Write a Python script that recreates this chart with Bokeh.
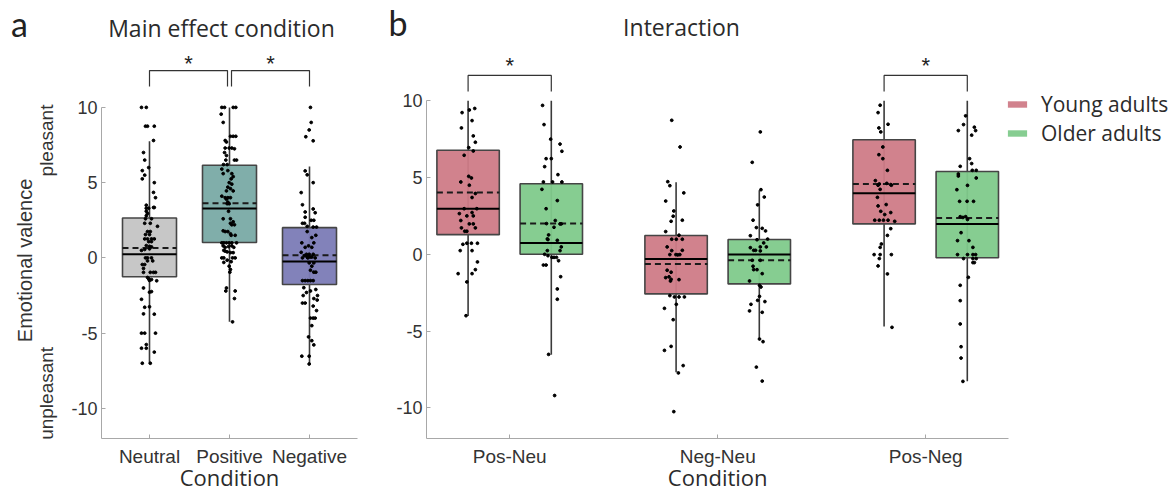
import math
from bokeh.plotting import figure
from bokeh.layouts import row
from bokeh.models import FixedTicker, Label, Legend, LegendItem
from bokeh.core.properties import value
from bokeh.embed import file_html
from bokeh.resources import INLINE

# ---------------- data: panel a (main effect of condition) ----------------
a_conditions = ["Neutral", "Positive", "Negative"]
a_q1 = [-1.25, 1.02, -1.77]
a_median = [0.25, 3.28, -0.24]
a_q3 = [2.65, 6.16, 2.01]
a_mean = [0.65, 3.63, 0.18]
a_low = [-7.0, -4.25, -7.07]
a_high = [7.75, 10.0, 6.07]
a_sig_pairs = [(0, 1), (1, 2)]

neutral_vals = [10, 10, 8.75, 8.75, 8.75, 7.8, 7.0, 6.5, 6.0, 5.8, 5.5, 5.25, 5.0, 4.35, 4.0, 3.5, 3.3, 3.3,
                3.35, 3.35, 3.1, 2.95, 2.8, 2.6, 2.6, 2.3, 2.3, 2.1, 1.75, 1.75, 1.55, 1.55, 1.26, 1.26, 1.26,
                1.26, 1.08, 1.08, 0.82, 0.77, 0.73, 0.5, 0.56, 0.6, 0.0, 0.0, 0.0, -0.2, -0.2, -0.44, -0.44,
                -0.7, -0.96, -0.96, -0.96, -0.96, -1.3, -1.4, -1.5, -1.44, -1.52, -2.0, -2.24, -2.28, -2.75,
                -3.28, -3.25, -3.72, -3.74, -5.0, -5.0, -5.0, -5.76, -6.0, -6.0, -6.26, -7.0, -7.0]
neutral_jit = [-0.10, -0.04, -0.05, -0.025, 0.06, 0.05, -0.075, -0.06, -0.01, -0.09, -0.06, -0.09, 0.06, 0.05,
               0.075, -0.04, -0.04, -0.01, 0.05, 0.06, -0.04, -0.025, -0.04, -0.05, 0.025, -0.06, 0.01, 0.10,
               -0.025, 0.01, -0.05, 0.0, -0.06, -0.025, 0.025, 0.06, -0.01, 0.025, -0.04, 0.0, 0.025, -0.10,
               -0.06, 0.0, -0.05, -0.025, 0.025, 0.04, -0.025, -0.09, -0.06, -0.075, -0.075, 0.01, 0.05, 0.075,
               -0.025, -0.01, 0.0, 0.025, 0.09, -0.075, 0.025, 0.0, -0.10, -0.06, 0.0, -0.075, 0.06, -0.10,
               -0.06, 0.075, -0.04, -0.10, -0.04, 0.06, -0.09, 0.01]

positive_vals = [10.0, 10.0, 10.0, 10.0, 9.55, 9.0, 8.08, 8.08, 8.08, 7.8, 7.7, 7.3, 7.3, 7.3, 7.25, 7.0, 6.8,
                 6.5, 6.5, 6.5, 6.2, 6.2, 5.9, 5.8, 5.6, 5.6, 5.4, 5.25, 5.0, 4.9, 4.7, 4.6, 4.45, 4.45, 4.1,
                 4.0, 4.0, 4.0, 3.9, 3.7, 3.6, 3.6, 3.1, 2.6, 2.6, 2.4, 2.3, 2.2, 2.2, 1.8, 1.75, 1.75, 1.6,
                 1.5, 1.5, 1.0, 1.0, 1.0, 1.0, 1.0, 1.0, 0.8, 0.7, 0.75, 0.8, 0.7, 0.4, 0.35, 0.35, 0.5, 0.45,
                 0.0, 0.0, 0.0, 0.0, -0.15, -0.25, -0.3, -0.55, -0.77, -0.95, -2.0, -2.2, -2.2, -2.7, -4.25]
positive_jit = [-0.096, -0.062, 0.046, 0.079, -0.104, -0.079, 0.012, 0.046, 0.079, -0.054, -0.038, -0.054,
                -0.004, 0.029, 0.062, -0.062, -0.038, -0.046, 0.062, 0.088, -0.075, -0.029, -0.096, -0.021,
                -0.079, 0.029, 0.046, 0.021, -0.004, 0.029, -0.021, 0.012, -0.038, 0.046, -0.096, -0.054,
                -0.021, 0.012, -0.038, -0.021, -0.004, -0.029, -0.012, -0.079, 0.012, 0.046, 0.012, 0.029,
                0.062, -0.079, -0.054, -0.021, 0.012, 0.021, 0.071, -0.096, -0.071, -0.038, -0.004, 0.029,
                0.088, -0.079, -0.054, -0.012, 0.029, 0.054, -0.029, 0.012, 0.046, -0.071, -0.054, -0.096,
                -0.071, 0.038, 0.071, -0.029, 0.021, -0.071, -0.004, 0.012, 0.004, -0.038, -0.046, 0.071,
                0.062, 0.038]

negative_vals = [10.0, 9.0, 8.5, 8.05, 7.78, 5.78, 5.52, 5.0, 4.34, 3.53, 3.25, 3.0, 3.05, 2.7, 2.5, 2.5, 2.3,
                 2.3, 2.1, 2.05, 2.05, 1.75, 1.5, 1.35, 1.0, 1.0, 0.8, 0.7, 0.7, 0.37, 0.24, 0.24, 0.24, 0.15,
                 0.06, 0.06, 0.06, 0.06, 0.0, 0.0, 0.0, -0.33, -0.33, -0.55, -0.82, -0.95, -0.95, -1.51, -1.51,
                 -1.51, -1.51, -1.51, -1.98, -2.1, -2.2, -2.3, -2.5, -2.5, -2.7, -2.8, -3.0, -3.0, -3.2, -3.5,
                 -4.0, -4.0, -4.0, -4.5, -5.25, -5.5, -5.78, -6.53, -6.53, -7.05]
negative_jit = [0.012, 0.021, -0.004, -0.046, 0.046, -0.054, -0.029, 0.046, -0.104, -0.088, 0.046, 0.071,
                -0.054, -0.054, 0.021, 0.054, -0.088, -0.062, -0.029, 0.046, 0.088, -0.029, 0.079, 0.029,
                -0.096, 0.054, -0.012, 0.029, -0.054, -0.104, 0.046, -0.038, -0.004, -0.062, -0.029, -0.012,
                0.012, 0.029, -0.088, -0.021, 0.071, -0.004, 0.054, 0.029, 0.012, 0.054, 0.079, -0.088, -0.054,
                -0.021, 0.012, 0.046, -0.071, 0.079, 0.012, -0.038, 0.1, -0.079, 0.054, 0.096, -0.088, -0.054,
                0.046, 0.088, 0.012, 0.046, 0.071, 0.029, -0.012, 0.029, 0.054, -0.096, -0.004, -0.004]

a_points = [(neutral_vals, neutral_jit), (positive_vals, positive_jit), (negative_vals, negative_jit)]

# ---------------- data: panel b (interaction age x condition) ----------------
b_conditions = ["Pos-Neu", "Neg-Neu", "Pos-Neg"]
groups = ["Young adults", "Older adults"]
young_q1 = [1.28, -2.58, 1.98]
young_median = [2.97, -0.3, 3.97]
young_q3 = [6.78, 1.22, 7.46]
young_mean = [4.02, -0.63, 4.58]
young_low = [-4.02, -7.69, -4.71]
young_high = [10.0, 4.69, 10.0]
older_q1 = [0.0, -1.93, -0.22]
older_median = [0.74, -0.02, 1.98]
older_q3 = [4.6, 0.96, 5.39]
older_mean = [2.0, -0.39, 2.37]
older_low = [-6.54, -5.52, -8.27]
older_high = [10.0, 4.17, 10.0]
b_sig_conditions = [0, 2]

young_posneu_vals = [9.23, 9.4, 9.5, 8.71, 8.23, 7.71, 7.3, 6.95, 6.73, 6.45, 5.08, 4.97, 4.71, 4.5, 3.96, 3.7,
                     2.97, 2.97, 2.65, 2.72, 2.5, 2.5, 2.2, 1.98, 1.98, 1.72, 1.72, 1.5, 1.5, 0.72, 0.72, 0.72,
                     0.65, 0.24, 0.24, -0.5, -1.0, -1.26, -1.26, -1.8, -4.0]
young_posneu_jit = [-0.029, 0.006, 0.032, 0.019, -0.032, 0.025, 0.035, 0.003, 0.025, -0.019, 0.003, 0.016,
                    -0.035, 0.006, 0.035, 0.019, -0.019, 0.042, -0.042, 0.019, 0.025, -0.006, -0.035, 0.006,
                    0.025, 0.035, -0.032, -0.016, -0.006, -0.006, 0.016, 0.045, -0.025, -0.038, 0.019, 0.045,
                    0.035, -0.048, 0.019, -0.006, -0.01]
older_posneu_vals = [9.7, 8.45, 7.5, 7.18, 6.71, 6.23, 6.23, 5.71, 5.19, 4.71, 4.71, 4.71, 4.23, 3.5, 2.97, 2.2,
                     1.98, 1.98, 1.76, 1.26, 1.0, 0.96, 0.91, 0.48, 0.24, 0.24, 0.0, -0.09, -0.2, -0.2, -0.2,
                     -0.42, -0.7, -0.7, -1.46, -2.26, -2.93, -6.52, -9.2, 2.0]
older_posneu_jit = [-0.042, -0.035, -0.003, 0.042, 0.051, -0.025, 0.0, -0.032, 0.032, -0.038, 0.006, 0.051,
                    -0.045, 0.029, -0.025, 0.019, 0.042, 0.048, 0.013, -0.013, -0.019, -0.016, 0.029, 0.048,
                    0.042, -0.019, -0.032, -0.016, 0.003, 0.013, 0.025, 0.035, -0.038, -0.025, 0.045, 0.029,
                    0.029, -0.013, 0.016, -0.023]
young_negneu_vals = [8.73, 6.99, 4.73, 4.47, 4.0, 3.47, 2.82, 2.48, 2.15, 2.22, 1.48, 1.24, 0.98, 0.98, 0.98,
                     0.48, 0.26, 0.24, -0.02, -0.04, -0.02, -0.02, -1.04, -1.17, -1.47, -1.52, -1.63, -1.65,
                     -1.74, -2.69, -2.78, -2.78, -2.78, -3.52, -3.26, -4.26, -6.0, -6.26, -7.25, -7.73, -10.25]
young_negneu_jit = [-0.021, 0.019, -0.04, -0.03, 0.037, -0.05, -0.011, -0.014, -0.024, 0.03, -0.05, 0.014,
                    -0.021, 0.001, 0.03, -0.043, 0.03, -0.021, -0.001, 0.008, -0.03, 0.018, -0.043, -0.024,
                    -0.034, -0.05, -0.024, 0.014, -0.027, -0.03, -0.008, 0.014, 0.04, -0.056, 0.001, -0.014,
                    -0.024, -0.056, 0.034, 0.011, -0.011]
older_negneu_vals = [7.97, 5.99, 4.21, 3.73, 3.22, 2.22, 1.74, 1.52, 1.69, 1.21, 0.95, 0.99, 0.74, 0.48, 0.48,
                     0.43, 0.26, 0.26, 0.22, -0.39, -0.39, -0.78, -1.0, -1.0, -1.26, -1.74, -2.02, -2.13, -2.74,
                     -3.08, -3.0, -3.26, -3.69, -3.78, -5.52, -5.69, -7.35, -8.26]
older_negneu_jit = [0.005, -0.034, 0.008, 0.024, -0.008, -0.03, -0.014, 0.03, 0.014, -0.043, -0.011, 0.04,
                    0.021, 0.005, 0.034, -0.043, -0.027, -0.018, 0.005, -0.034, 0.005, -0.03, -0.011, -0.027,
                    0.014, -0.047, 0.001, 0.008, 0.001, 0.027, -0.008, -0.04, -0.047, 0.014, 0.001, 0.018,
                    -0.014, 0.014]
young_posneg_vals = [9.71, 9.23, 8.23, 7.97, 8.47, 6.99, 6.49, 6.23, 5.47, 4.8, 4.58, 4.5, 4.62, 4.54, 4.5, 4.23,
                     3.71, 3.15, 3.24, 2.8, 2.72, 2.59, 2.22, 2.22, 2.22, 2.22, 2.15, 1.67, 1.23, 0.67, 0.45,
                     -0.02, -0.02, -0.02, -0.28, -0.76, -1.28, -4.76]
young_posneg_jit = [-0.019, -0.029, -0.025, -0.016, 0.019, -0.006, -0.025, -0.006, 0.016, -0.042, -0.023,
                    -0.029, 0.013, 0.032, 0.035, -0.019, -0.032, -0.029, 0.01, -0.016, 0.032, 0.003, -0.045,
                    -0.023, -0.003, 0.019, 0.051, 0.032, 0.016, -0.013, -0.019, -0.048, -0.019, 0.035, -0.023,
                    -0.029, 0.016, 0.038]
older_posneg_vals = [9.02, 8.45, 8.06, 8.28, 8.06, 7.76, 6.23, 5.91, 5.73, 5.47, 5.47, 5.23, 5.1, 4.97, 4.49,
                     4.21, 3.45, 3.45, 3.45, 2.45, 2.4, 2.45, 2.27, 1.41, 0.89, 0.89, 0.45, -0.02, -0.02, -0.02,
                     -0.02, -0.28, -0.28, -0.28, -0.54, -0.54, -1.5, -2.02, -3.02, -4.54, -6.02, -6.76, -8.28]
older_posneg_jit = [-0.008, -0.018, -0.043, 0.034, 0.04, 0.021, 0.011, 0.021, -0.034, 0.024, 0.043, -0.043,
                    -0.043, 0.043, 0.001, -0.05, -0.037, -0.001, 0.03, -0.034, -0.021, -0.008, 0.001, -0.03,
                    -0.047, 0.008, 0.027, -0.047, 0.001, 0.027, 0.04, -0.018, 0.027, 0.043, 0.034, 0.027,
                    0.005, -0.034, -0.034, -0.034, -0.03, -0.03, -0.021]

young_points = [(young_posneu_vals, young_posneu_jit), (young_negneu_vals, young_negneu_jit),
                (young_posneg_vals, young_posneg_jit)]
older_points = [(older_posneu_vals, older_posneu_jit), (older_negneu_vals, older_negneu_jit),
                (older_posneg_vals, older_posneg_jit)]

y_ticks = [-10, -5, 0, 5, 10]
y_tick_labels = ["-10", "-5", "0", "5", "10"]

# ---------------- styling ----------------
a_colors = ["#c4c4c4", "#79aaa5", "#7b7bb6"]
group_colors = ["#cf7b87", "#7fca8b"]
TICK_FONT = "Liberation Sans"
TEXT_FONT = "Open Sans"
LETTER_FONT = "Lato"
TXT = "#2b2b2b"
AXIS_COLOR = "#a8a8a8"
H = 493


def make_fig(width, xr, yr, x_axis_bounds, xlabels):
    # the frame covers the whole canvas; axes sit at fixed data locations inside it
    p = figure(width=width, height=H, x_range=xr, y_range=yr, output_backend="svg",
               toolbar_location=None, min_border=0, title=None)
    p.outline_line_color = None
    p.xgrid.visible = False
    p.ygrid.visible = False
    p.background_fill_color = "white"
    ticks = list(range(1, len(xlabels) + 1))
    p.xaxis.ticker = FixedTicker(ticks=ticks)
    p.xaxis.major_label_overrides = {t: l for t, l in zip(ticks, xlabels)}
    p.xaxis.bounds = x_axis_bounds
    p.xaxis.fixed_location = -12
    p.yaxis.ticker = FixedTicker(ticks=y_ticks)
    p.yaxis.major_label_overrides = {t: l for t, l in zip(y_ticks, y_tick_labels)}
    p.yaxis.bounds = (-12, 10)
    p.yaxis.fixed_location = x_axis_bounds[0]
    for ax in (p.xaxis, p.yaxis):
        ax.axis_line_color = AXIS_COLOR
        ax.major_tick_line_color = AXIS_COLOR
        ax.major_tick_in = 4
        ax.major_tick_out = 0
        ax.minor_tick_line_color = None
        ax.major_label_text_font = TICK_FONT
        ax.major_label_text_color = "#333333"
    p.xaxis.major_label_text_font_size = "19px"
    p.yaxis.major_label_text_font_size = "18px"
    p.xaxis.major_label_standoff = 7
    p.yaxis.major_label_standoff = 4
    return p


def draw_boxes(p, xs, width, q1, med, q3, mean, lo, hi, colors):
    p.segment(x0=xs, y0=lo, x1=xs, y1=hi, line_color="#3a3a3a", line_width=1.6)
    fill = p.vbar(x=xs, width=width, bottom=q1, top=q3, fill_color=colors, fill_alpha=0.95, line_color=None)
    p.vbar(x=xs, width=width, bottom=q1, top=q3, fill_color=None, line_color="#454545", line_width=1.6)
    p.segment(x0=[x - width / 2 for x in xs], y0=med, x1=[x + width / 2 for x in xs], y1=med,
              line_color="black", line_width=2)
    p.segment(x0=[x - width / 2 for x in xs], y0=mean, x1=[x + width / 2 for x in xs], y1=mean,
              line_color="#1a1a1a", line_width=2, line_dash="6 4")
    return fill


def add_label(p, x, y, text, font, size, align="center", baseline="alphabetic", angle=0.0, color=TXT):
    p.add_layout(Label(x=x, y=y, text=text, text_font=font, text_font_size=size, angle=angle,
                       text_align=align, text_baseline=baseline, text_color=color))


# ---------------- panel a ----------------
pa = make_fig(373, (-0.8625, 3.8), (-15.654, 17.103), (0.4, 3.6), a_conditions)

A_BOX_W = 0.675
a_x = [i + 1 for i in range(len(a_conditions))]
draw_boxes(pa, a_x, A_BOX_W, a_q1, a_median, a_q3, a_mean, a_low, a_high, a_colors)
for i, (vals, jit) in enumerate(a_points):
    pa.scatter(x=[a_x[i] + j for j in jit], y=vals, size=2.8, color="black")

for k, (i0, i1) in enumerate(a_sig_pairs):
    xa = a_x[i0] + (0 if k == 0 else 0.025)
    xb = a_x[i1] - (0.025 if k == 0 else 0)
    pa.line(x=[xa, xa, xb, xb], y=[11.39, 12.45, 12.45, 11.39], line_color="#333333", line_width=1.2)
    pa.text(x=[(xa + xb) / 2], y=[12.94], text=["*"], text_font=value(TICK_FONT), text_font_size="22px",
            text_align="center", text_baseline="alphabetic", text_color="#222222")

add_label(pa, -0.625, 15.6, "a", LETTER_FONT, "34px", color="#222222")
add_label(pa, 1.9, 15.3, "Main effect condition", TEXT_FONT, "23px")
add_label(pa, -0.5625, -0.17, "Emotional valence", TICK_FONT, "20px", baseline="middle", angle=math.pi / 2,
          color="#333333")
add_label(pa, -0.29, 7.8, "pleasant", TICK_FONT, "19px", baseline="middle", angle=math.pi / 2,
          color="#333333")
add_label(pa, -0.29, -9.0, "unpleasant", TICK_FONT, "19px", baseline="middle", angle=math.pi / 2,
          color="#333333")
add_label(pa, 2.0, -14.58, "Condition", TEXT_FONT, "22px")

# ---------------- panel b ----------------
pb = make_fig(803, (0.3452, 4.2058), (-15.583, 16.534), (0.6, 3.4), b_conditions)
B_OFF = 0.2
B_BOX_W = 0.3
stats = [
    (young_q1, young_median, young_q3, young_mean, young_low, young_high),
    (older_q1, older_median, older_q3, older_mean, older_low, older_high),
]
fills = []
for g, (q1, med, q3, mean, lo, hi) in enumerate(stats):
    off = -B_OFF if g == 0 else B_OFF
    xs = [i + 1 + off for i in range(len(b_conditions))]
    fills.append(draw_boxes(pb, xs, B_BOX_W, q1, med, q3, mean, lo, hi, [group_colors[g]] * len(xs)))
for g, pts in enumerate([young_points, older_points]):
    off = -B_OFF if g == 0 else B_OFF
    for i, (vals, jit) in enumerate(pts):
        pb.scatter(x=[i + 1 + off + j for j in jit], y=vals, size=2.8, color="black")

for i in b_sig_conditions:
    xa, xb = i + 1 - B_OFF, i + 1 + B_OFF
    pb.line(x=[xa, xa, xb, xb], y=[10.6, 11.65, 11.65, 10.6], line_color="#333333", line_width=1.2)
    pb.text(x=[i + 1], y=[12.33], text=["*"], text_font=value(TICK_FONT), text_font_size="22px",
            text_align="center", text_baseline="alphabetic", text_color="#222222")

add_label(pb, 0.417, 15.1, "b", LETTER_FONT, "34px", align="left", color="#222222")
add_label(pb, 1.826, 14.78, "Interaction", TEXT_FONT, "23px")
add_label(pb, 2.0, -14.53, "Condition", TEXT_FONT, "22px")

legend = Legend(items=[LegendItem(label=groups[k], renderers=[fills[k]], index=0) for k in range(2)],
                location=(632, 346), margin=0, padding=0, border_line_color=None, background_fill_alpha=0,
                glyph_width=24, glyph_height=8, label_height=22, label_standoff=12, spacing=1,
                label_text_font=TEXT_FONT, label_text_font_size="21px", label_text_color=TXT)
pb.add_layout(legend)

layout = row(pa, pb)
open("out.html", "w").write(file_html(layout, INLINE))
